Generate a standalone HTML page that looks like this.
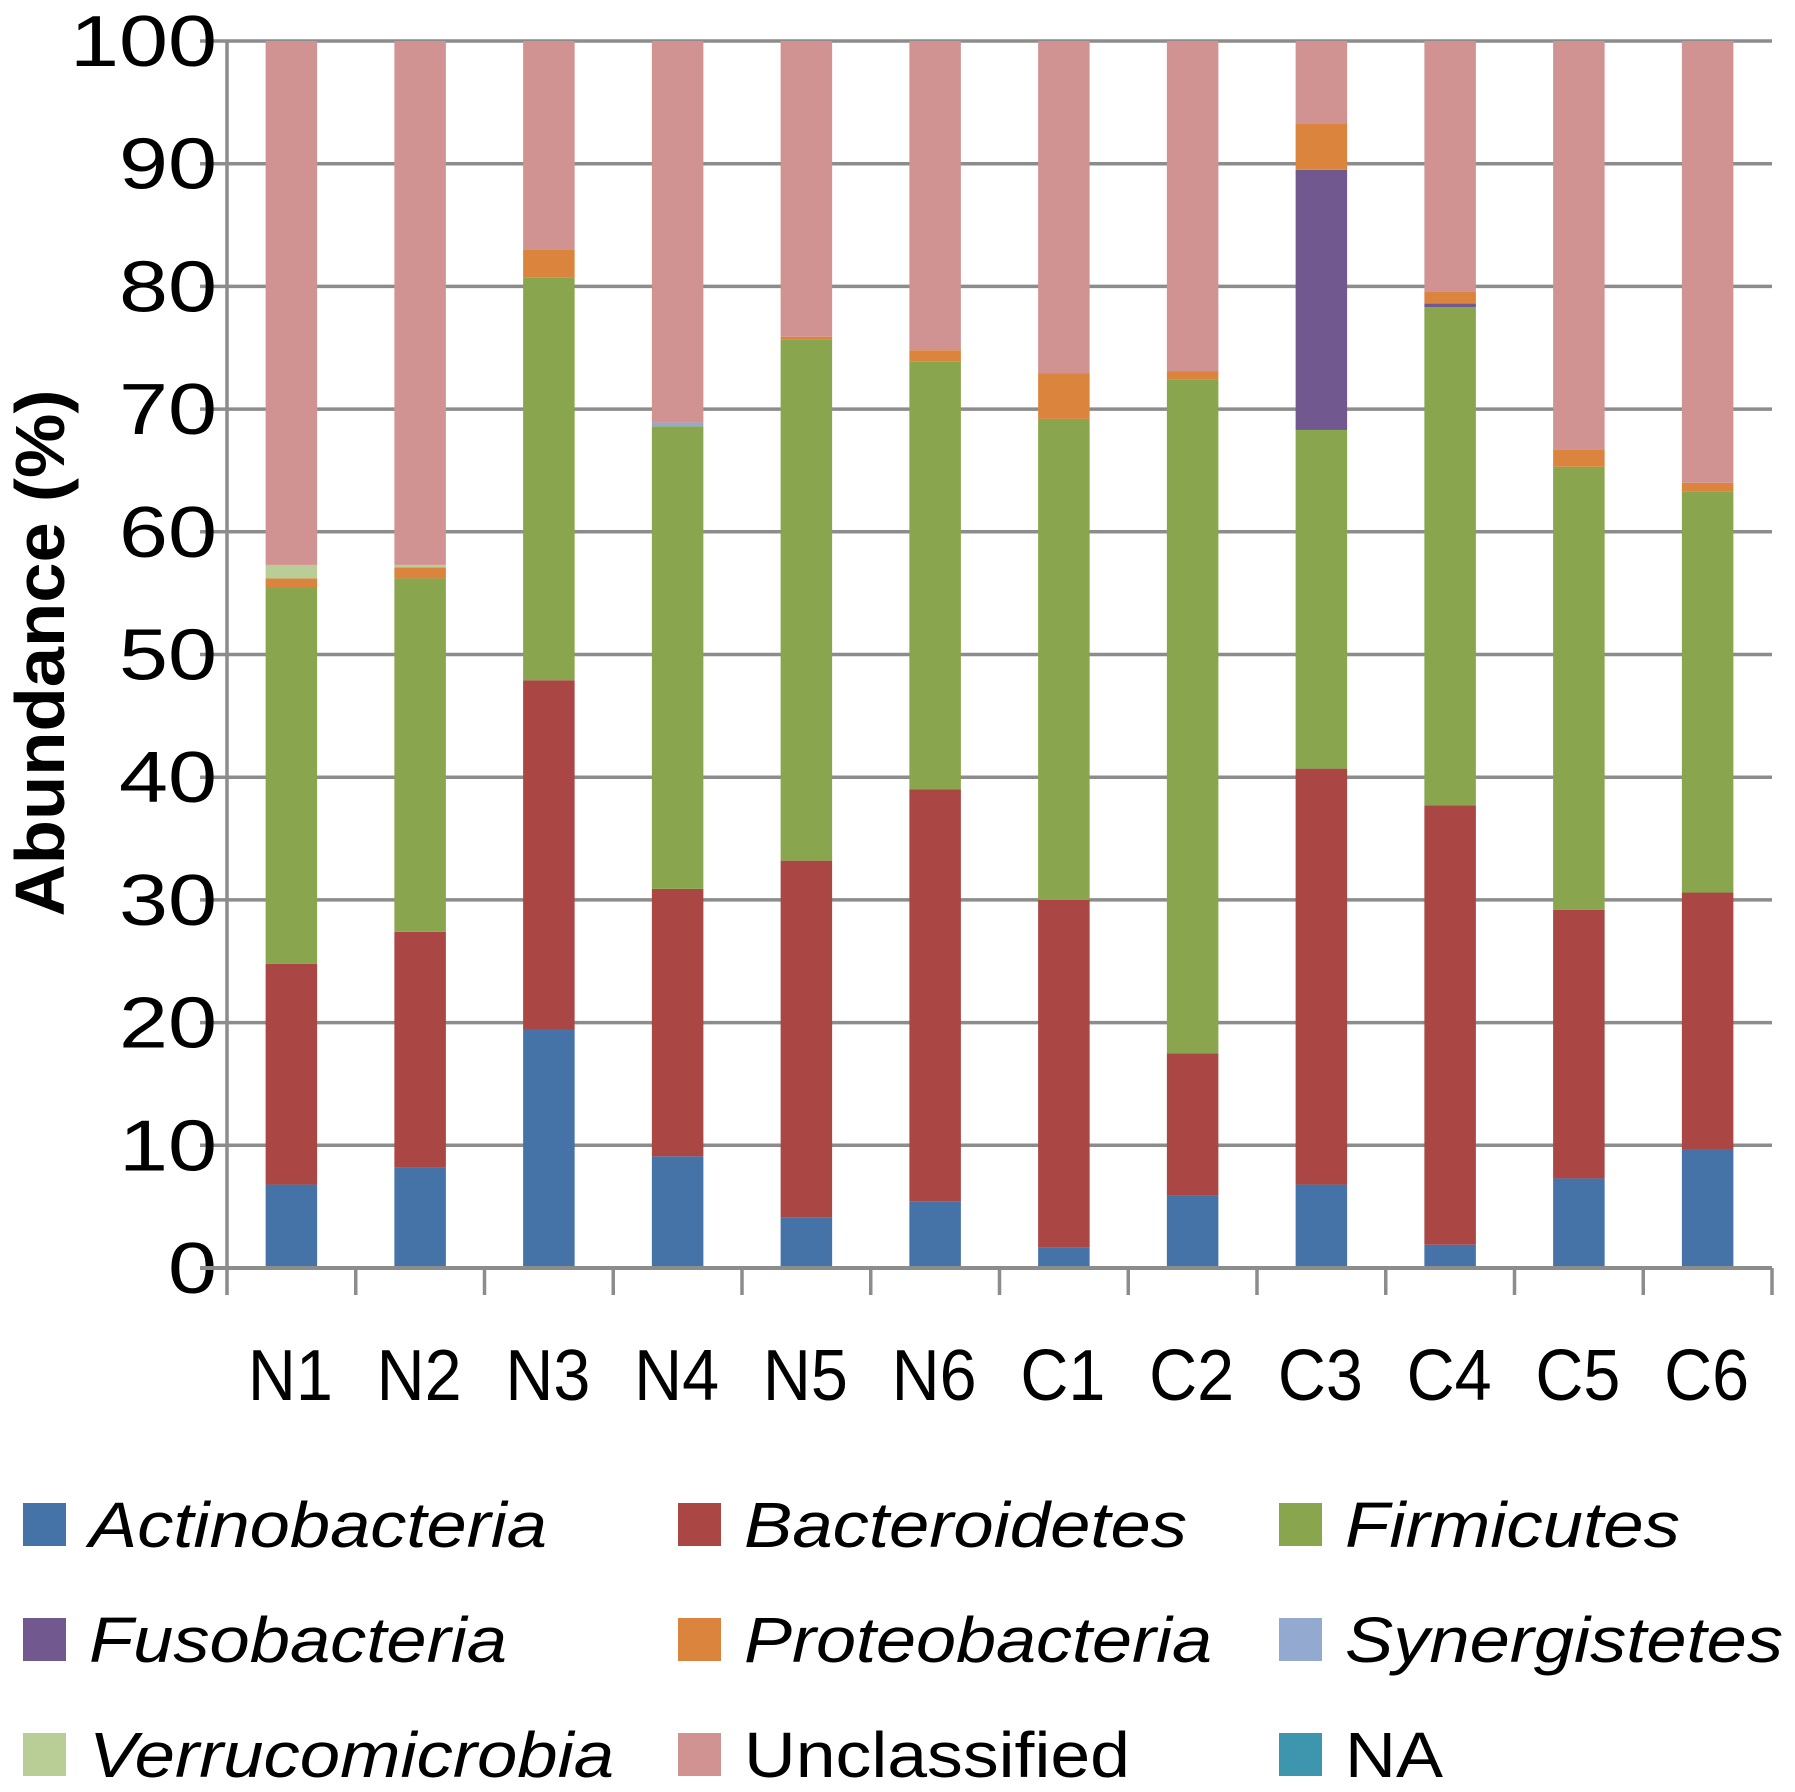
<!DOCTYPE html>
<html><head><meta charset="utf-8">
<style>
html,body{margin:0;padding:0;background:#fff;}
svg{display:block;font-family:"Liberation Sans",Arial,sans-serif;}
</style></head>
<body>
<svg id="chart" width="1795" height="1792" viewBox="0 0 1795 1792" xmlns="http://www.w3.org/2000/svg">
<g id="grid"></g>
<g id="bars"></g>
<g id="axes"></g>
<text transform="translate(64,653) rotate(-90)" text-anchor="middle" font-size="70" font-weight="bold" fill="#000" textLength="527" lengthAdjust="spacingAndGlyphs">Abundance (%)</text>
<g id="legend"></g>
</svg>
<script>
const categories = ["N1","N2","N3","N4","N5","N6","C1","C2","C3","C4","C5","C6"];
const seriesNames = ["Actinobacteria","Bacteroidetes","Firmicutes","Fusobacteria","Proteobacteria","Synergistetes","Verrucomicrobia","Unclassified","NA"];
const actinobacteria = [6.8,8.2,19.4,9.1,4.1,5.4,1.7,5.9,6.8,1.9,7.3,9.7];
const bacteroidetes = [18.0,19.2,28.5,21.8,29.1,33.6,28.3,11.6,33.9,35.8,21.9,20.9];
const firmicutes = [30.7,28.8,32.8,37.7,42.5,34.9,39.2,54.9,27.6,40.6,36.1,32.7];
const fusobacteria = [0,0,0,0,0,0,0,0,21.2,0.3,0,0];
const proteobacteria = [0.7,0.9,2.3,0,0.2,0.9,3.7,0.7,3.8,1.0,1.4,0.7];
const synergistetes = [0,0,0,0.3,0,0,0,0,0,0,0,0];
const verrucomicrobia = [1.1,0.2,0,0,0,0,0,0,0,0,0,0];
const unclassified = [42.7,42.7,17.0,31.1,24.1,25.2,27.1,26.9,6.7,20.4,33.3,36.0];
const naValues = [0,0,0,0,0,0,0,0,0,0,0,0];
const yTicks = [0,10,20,30,40,50,60,70,80,90,100];
const colors = ["#4572a7","#aa4643","#89a54e","#71588f","#db843d","#93a9cf","#b9cd96","#d19392","#3d96ae"];
const allSeries = [actinobacteria,bacteroidetes,firmicutes,fusobacteria,proteobacteria,synergistetes,verrucomicrobia,unclassified,naValues];
const legendLens = [458,443,335,418,468,438,525,386,98];

const NS="http://www.w3.org/2000/svg";
const X0=227,X1=1772,Y0=1268,Y100=41;
const bandW=(X1-X0)/categories.length, barW=bandW*0.4;
function yScale(v){return Y0-(Y0-Y100)*v/100;}
function xCenter(i){return X0+bandW*(i+0.5);}
function mk(tag,attrs,parent){const e=document.createElementNS(NS,tag);for(const k in attrs)e.setAttribute(k,attrs[k]);parent.appendChild(e);return e;}

const grid=document.getElementById('grid');
yTicks.forEach(t=>{
  const l=mk('line',{x1:200,x2:X1,y1:yScale(t),y2:yScale(t),stroke:'#8c8c8c','stroke-width':3.5},grid);
  
  
  const s=String(t);
  const tx=mk('text',{x:217,y:yScale(t)+25,'text-anchor':'end','font-size':72,fill:'#000',textLength:49*s.length,lengthAdjust:'spacingAndGlyphs'},grid);
  tx.textContent=s;
  
  
});
const bars=document.getElementById('bars');
categories.forEach((c,i)=>{
  let cum=0;
  allSeries.forEach((s,j)=>{
    const v=s[i];
    if(v>0){
      const r=mk('rect',{x:xCenter(i)-barW/2,y:yScale(cum+v),width:barW,height:yScale(cum)-yScale(cum+v),fill:colors[j]},bars);
      
      
    }
    cum+=v;
  });
});
const axes=document.getElementById('axes');
const ya=mk('line',{x1:X0,x2:X0,y1:Y100,y2:1295,stroke:'#8c8c8c','stroke-width':3.5},axes);


const xa=mk('line',{x1:200,x2:X1,y1:Y0,y2:Y0,stroke:'#8c8c8c','stroke-width':4},axes);


for(let i=1;i<=categories.length;i++){
  const tk=mk('line',{x1:X0+bandW*i,x2:X0+bandW*i,y1:Y0,y2:1295,stroke:'#8c8c8c','stroke-width':3.5},axes);
  
  
}
categories.forEach((c,i)=>{
  const t=mk('text',{x:xCenter(i)-1,y:1400,'text-anchor':'middle','font-size':72,fill:'#000',textLength:85,lengthAdjust:'spacingAndGlyphs'},axes);
  t.textContent=c;
  
  
});
const legend=document.getElementById('legend');
const colX=[23,678,1279], rowY=[1503,1618,1733];
seriesNames.forEach((n,k)=>{
  const cx=colX[k%3], cy=rowY[Math.floor(k/3)];
  const g=mk('g',{},legend);
  
  
  mk('rect',{x:cx,y:cy,width:43,height:43,fill:colors[k]},g);
  const t=mk('text',{x:cx+66,y:cy+44,'font-size':64,fill:'#000','font-style':(n==='Unclassified'||n==='NA')?'normal':'italic',textLength:legendLens[k],lengthAdjust:'spacingAndGlyphs'},g);
  t.textContent=n;
});
</script>
</body></html>
